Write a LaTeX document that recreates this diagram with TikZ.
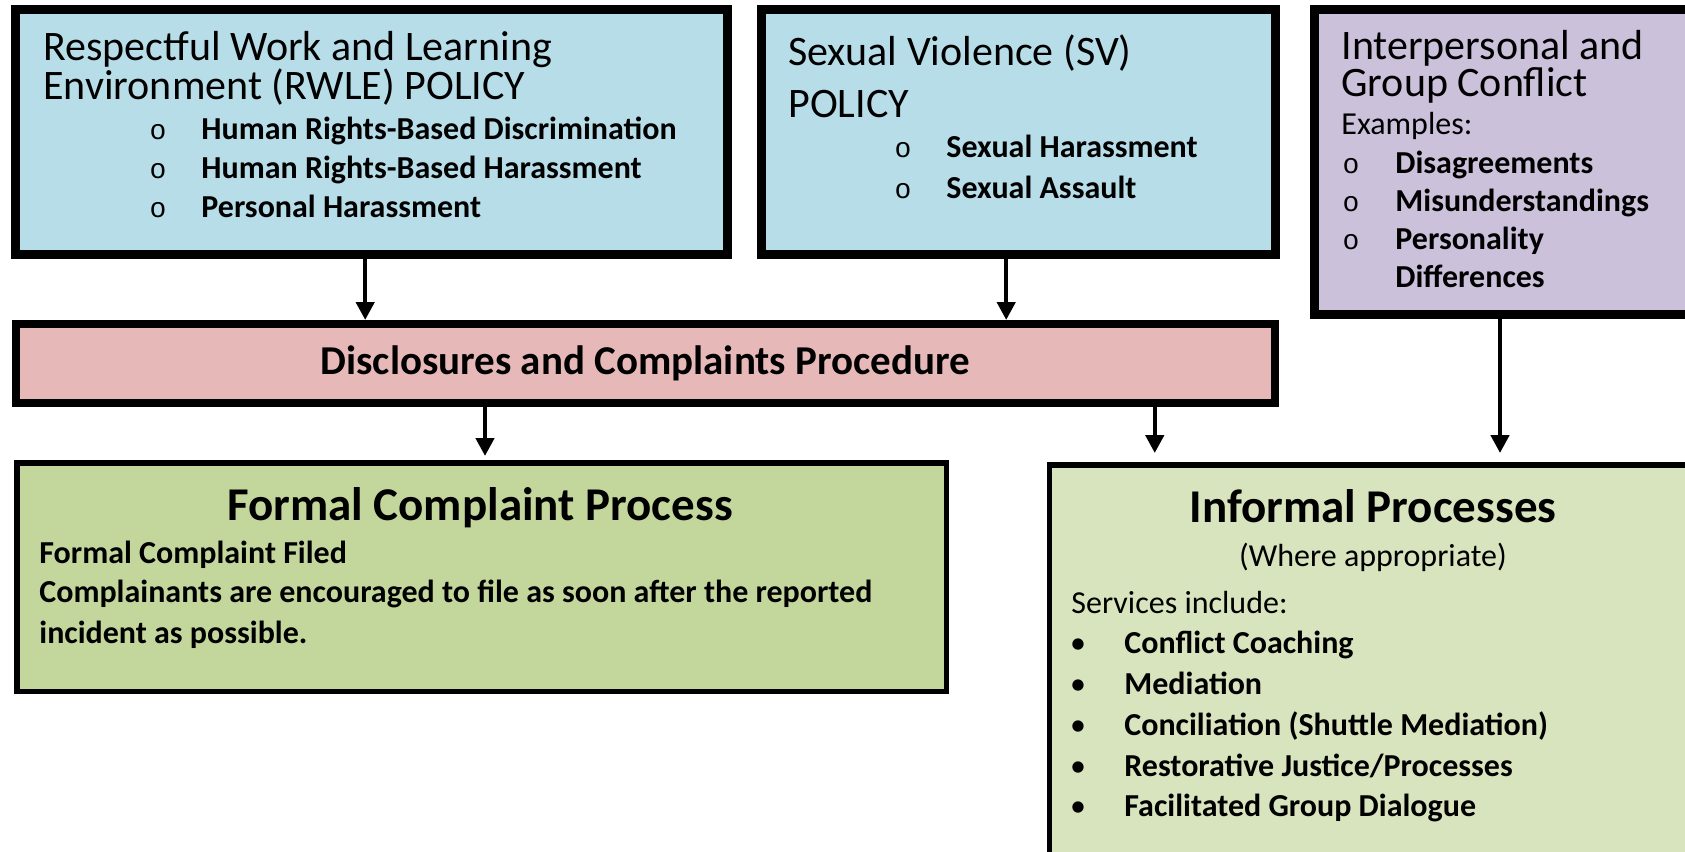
\documentclass[tikz,border=0pt]{standalone}
\usepackage{fontspec}
\setmainfont{Carlito}
\newfontfamily\ringfont{Liberation Mono}
\usetikzlibrary{arrows.meta,positioning}

\definecolor{policyblue}{HTML}{B7DEE8}
\definecolor{conflictlilac}{HTML}{CCC1DA}
\definecolor{procpink}{HTML}{E6B9B8}
\definecolor{formalgreen}{HTML}{C3D69B}
\definecolor{informalgreen}{HTML}{D7E4BD}

\tikzset{
  heavybox/.style={draw, line width=4.5pt, inner sep=0pt},
  midbox/.style={draw, line width=4pt, inner sep=0pt},
  lowbox/.style={draw, line width=2.75pt, inner sep=0pt},
  headtext/.style={anchor=base west, inner sep=0pt, align=left},
  itemtext/.style={anchor=base west, inner sep=0pt, font=\fontsize{16}{16}\selectfont\bfseries},
  plaintext/.style={anchor=base west, inner sep=0pt, font=\fontsize{16}{16}\selectfont},
  bigtitle/.style={anchor=base, inner sep=0pt, font=\fontsize{23.5}{23.5}\selectfont\bfseries},
  ring/.style={anchor=base, inner sep=0pt, font=\ringfont\fontsize{14}{14}\selectfont},
  dotmark/.style={anchor=base, inner sep=0pt, font=\fontsize{16}{16}\selectfont},
  flow/.style={-{Triangle[width=9pt,length=9pt]}, line width=2.2pt}
}

\begin{document}
\begin{tikzpicture}[x=0.5pt,y=-0.5pt]
\useasboundingbox (0,0) rectangle (1685,851);
\clip (0,0) rectangle (1685,851);

% boxes
\node[heavybox,fill=policyblue,minimum width=356pt,minimum height=122.3pt] (rwle) at (371.2,132.2) {};
\node[heavybox,fill=policyblue,minimum width=257.2pt,minimum height=122.3pt] (sv) at (1018.2,132.2) {};
\node[heavybox,fill=conflictlilac,minimum width=200.5pt,minimum height=152.3pt] (conflict) at (1515,162.2) {};
\node[midbox,fill=procpink,minimum width=629.5pt,minimum height=39.5pt,
      font=\fontsize{20.5}{20.5}\selectfont\bfseries] (proc) at (645.3,363.5) {Disclosures and Complaints Procedure};
\node[lowbox,fill=formalgreen,minimum width=464.75pt,minimum height=114.25pt] (formal) at (481.5,577) {};
\node[lowbox,fill=informalgreen,minimum width=335.25pt,minimum height=217.6pt] (informal) at (1384.75,682.4) {};

% RWLE policy
\node[headtext,font=\fontsize{21}{19.3}\selectfont] (rwlehead) at (43,99.5) {Respectful Work and Learning\\Environment (RWLE) POLICY};
\foreach \i/\t in {1/Human Rights-Based Discrimination, 2/Human Rights-Based Harassment, 3/Personal Harassment} {
  \node[ring] (rwlering\i) at (158,101+38.7*\i) {o};
  \node[itemtext] (rwleitem\i) at (201,101+38.7*\i) {\t};
}

% SV policy
\node[headtext,font=\fontsize{21}{26.3}\selectfont] (svhead) at (788,117.7) {Sexual Violence (SV)\\POLICY};
\foreach \i/\t in {1/Sexual Harassment, 2/Sexual Assault} {
  \node[ring] (svring\i) at (903,116+41*\i) {o};
  \node[itemtext] (svitem\i) at (946,116+41*\i) {\t};
}

% conflict
\node[headtext,font=\fontsize{21}{18.2}\selectfont] (conflicthead) at (1341,96) {Interpersonal and\\Group Conflict};
\node[plaintext] (examples) at (1341,134.7) {Examples:};
\foreach \i/\t in {1/Disagreements, 2/Misunderstandings, 3/Personality} {
  \node[ring] (conflictring\i) at (1351,135+38*\i) {o};
  \node[itemtext] (conflictitem\i) at (1395,135+38*\i) {\t};
}
\node[itemtext] (conflictitem4) at (1395,287.2) {Differences};

% formal
\node[bigtitle] (formaltitle) at (480,520) {Formal Complaint Process};
\foreach \n/\y/\t in {1/563.4/Formal Complaint Filed, 2/602/Complainants are encouraged to file as soon after the reported, 3/643/incident as possible.}
  \node[itemtext] (formalline\n) at (39,\y) {\t};

% informal
\node[bigtitle] (informaltitle) at (1373,522) {Informal Processes};
\node[plaintext,anchor=base] (informalnote) at (1373,566) {(Where appropriate)};
\node[plaintext] (services) at (1071,613) {Services include:};
\foreach \i/\t in {1/Conflict Coaching, 2/Mediation, 3/Conciliation (Shuttle Mediation), 4/{Restorative Justice/Processes}, 5/Facilitated Group Dialogue} {
  \node[dotmark] (dot\i) at (1078,612.9+40.8*\i) {•};
  \node[itemtext] (service\i) at (1124,612.9+40.8*\i) {\t};
}

% arrows
\coordinate (a1) at ([xshift=-3pt]rwle.south);
\draw[flow] (a1) -- (a1 |- proc.north);
\coordinate (a2) at ([xshift=-6pt]sv.south);
\draw[flow] (a2) -- (a2 |- proc.north);
\coordinate (a3) at ([xshift=1.75pt]formal.north);
\draw[flow,shorten >=2pt] (a3 |- proc.south) -- (a3);
\coordinate (a4) at ([xshift=54pt]informal.north west);
\draw[flow,shorten >=4.5pt] (a4 |- proc.south) -- (a4);
\coordinate (a5) at ([xshift=-7.5pt]conflict.south);
\draw[flow,shorten >=4.5pt] (a5) -- (a5 |- informal.north);
\end{tikzpicture}
\end{document}
